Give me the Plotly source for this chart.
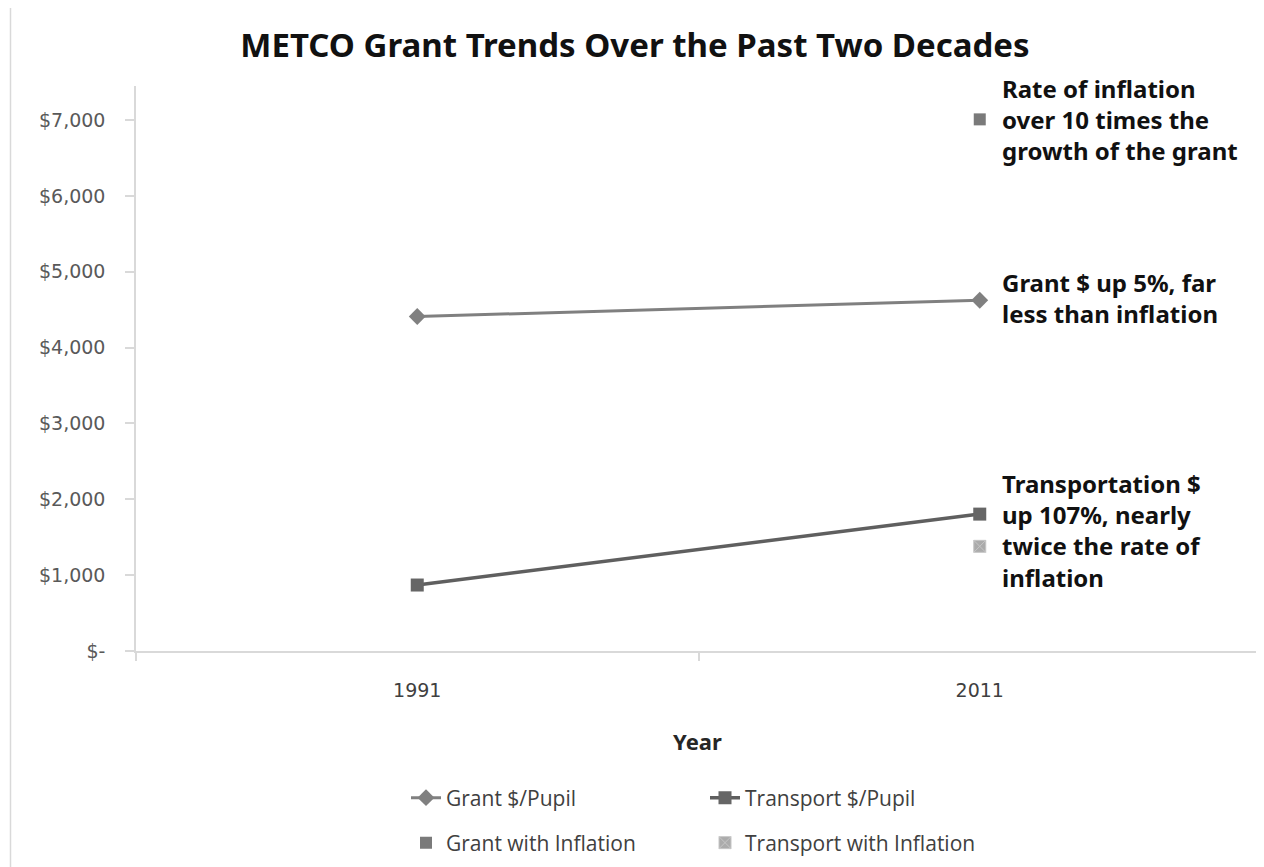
import plotly.graph_objects as go

years = ["1991", "2011"]
grant_per_pupil = [4410, 4625]
transport_per_pupil = [870, 1805]
grant_with_inflation_year = ["2011"]
grant_with_inflation = [7010]
transport_with_inflation_year = ["2011"]
transport_with_inflation = [1380]

y_tick_vals = [0, 1000, 2000, 3000, 4000, 5000, 6000, 7000]
y_tick_text = ["$-", "$1,000", "$2,000", "$3,000", "$4,000", "$5,000", "$6,000", "$7,000"]

label_grant_infl = "<b>Rate of inflation<br>over 10 times the<br>growth of the grant</b>"
label_grant = "<b>Grant $ up 5%, far<br>less than inflation</b>"
label_transport = "<b>Transportation $<br>up 107%, nearly<br>twice the rate of<br>inflation</b>"

# page body has an 8px offset; plot area intended at screen x 136..1261, y 86..651
OFF = 8
PL, PR, PT, PB = 136, 1261, 86, 651
PW, PH = PR - PL, PB - PT


def px(xs):
    return (xs - PL) / PW


def py(ys):
    return (PB - ys) / PH


fig = go.Figure()

fig.add_trace(go.Scatter(
    x=years, y=grant_per_pupil, name="Grant $/Pupil", mode="lines+markers",
    line=dict(color="#808080", width=3),
    marker=dict(symbol="diamond", size=13, color="#808080"),
    legend="legend",
))
fig.add_trace(go.Scatter(
    x=years, y=transport_per_pupil, name="Transport $/Pupil", mode="lines+markers",
    line=dict(color="#5f5f5f", width=3.5),
    marker=dict(symbol="square", size=13, color="#666666"),
    legend="legend",
))
fig.add_trace(go.Scatter(
    x=grant_with_inflation_year, y=grant_with_inflation, name="Grant with Inflation", mode="markers",
    marker=dict(symbol="square", size=12, color="#7a7a7a"),
    legend="legend2",
))
fig.add_trace(go.Scatter(
    x=transport_with_inflation_year, y=transport_with_inflation, name="Transport with Inflation", mode="markers",
    marker=dict(symbol="square-x", size=12, color="#ababab", line=dict(color="#c6c6c6", width=1)),
    legend="legend2",
))

ann_font = dict(family="Noto Sans", size=24, color="#111111")
fig.add_annotation(x=1, y=grant_with_inflation[0], text=label_grant_infl, showarrow=False,
                   xanchor="left", yanchor="middle", align="left", xshift=20, yshift=0, font=ann_font)
fig.add_annotation(x=1, y=grant_per_pupil[1], text=label_grant, showarrow=False,
                   xanchor="left", yanchor="middle", align="left", xshift=20, yshift=2, font=ann_font)
fig.add_annotation(x=1, y=transport_per_pupil[1], text=label_transport, showarrow=False,
                   xanchor="left", yanchor="middle", align="left", xshift=20, yshift=-16, font=ann_font)

# x-axis title
fig.add_annotation(x=px(697), y=py(741), xref="paper", yref="paper", text="<b>Year</b>", showarrow=False,
                   xanchor="center", yanchor="middle",
                   font=dict(family="Noto Sans", size=22, color="#262626"))

# outer chart border
fig.add_shape(type="rect", xref="paper", yref="paper", x0=px(10.5), x1=px(1300), y0=py(900), y1=py(5),
              line=dict(color="#d9d9d9", width=1.5), fillcolor="rgba(0,0,0,0)", layer="below")

legend_font = dict(family="Open Sans", size=21, color="#404040")
fig.update_layout(
    width=1264, height=867,
    paper_bgcolor="white", plot_bgcolor="white",
    margin=dict(l=PL - OFF, r=1264 - (PR - OFF), t=PT - OFF, b=867 - (PB - OFF)),
    title=dict(text="<b>METCO Grant Trends Over the Past Two Decades</b>",
               x=(635 - OFF) / 1264, xref="container", y=1 - (45 - OFF) / 867, yanchor="middle", xanchor="center",
               font=dict(family="Noto Sans", size=33, color="#111111")),
    xaxis=dict(type="category", range=[-0.5, 1.5], showgrid=False, zeroline=False,
               showline=True, linecolor="#d9d9d9", linewidth=1.5,
               ticks="outside", tickson="boundaries", ticklen=8, tickcolor="#d9d9d9", tickwidth=1.5,
               ticklabelstandoff=21,
               tickfont=dict(family="DejaVu Sans", size=19, color="#404040")),
    yaxis=dict(range=[0, 7450], showgrid=False, zeroline=False,
               showline=True, linecolor="#d9d9d9", linewidth=1.5,
               ticks="outside", ticklen=9, tickcolor="#d9d9d9", tickwidth=1.5,
               tickvals=y_tick_vals, ticktext=y_tick_text, ticklabelstandoff=16,
               tickfont=dict(family="DejaVu Sans", size=19, color="#595959")),
    legend=dict(orientation="h", x=px(406), xanchor="left", y=py(798), yanchor="middle",
                entrywidth=254, font=legend_font, bgcolor="rgba(0,0,0,0)"),
    legend2=dict(orientation="h", x=px(406), xanchor="left", y=py(843), yanchor="middle",
                 entrywidth=254, font=legend_font, bgcolor="rgba(0,0,0,0)"),
    showlegend=True,
)

fig.write_html("out.html")
